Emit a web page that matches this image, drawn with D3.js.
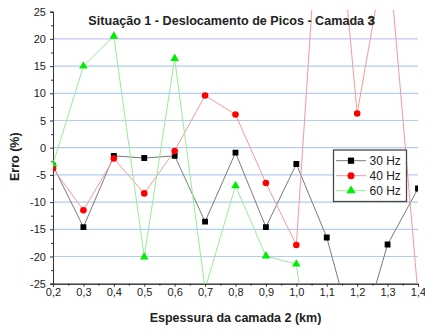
<!DOCTYPE html>
<html>
<head>
<meta charset="utf-8">
<script src="https://cdn.jsdelivr.net/npm/d3@7"></script>
<style>
  html, body { margin: 0; padding: 0; background: #fff; }
  svg { display: block; font-family: "Liberation Sans", Arial, sans-serif; }
</style>
</head>
<body>
<svg id="chart" width="425" height="331"></svg>
<script>
// Layer thickness (km)
const espessura = [0.2, 0.3, 0.4, 0.5, 0.6, 0.7, 0.8, 0.9, 1.0, 1.1, 1.2, 1.3, 1.4];

// Error (%) per frequency
const erro30 = [-3.3, -14.6, -1.5, -1.9, -1.5, -13.6, -0.9, -14.6, -3.0, -16.5, -37, -17.8, -7.5];
const erro40 = [-3.8, -11.5, -2.0, -8.4, -0.6, 9.6, 6.1, -6.5, -17.9, 67, 6.3, 38, -27];
const erro60 = [-3.0, 15.0, 20.5, -20.1, 16.4, -26, -7.0, -19.9, -21.4, -60];

const seriesNames = ["30 Hz", "40 Hz", "60 Hz"];

const xTicks = [0.2, 0.3, 0.4, 0.5, 0.6, 0.7, 0.8, 0.9, 1.0, 1.1, 1.2, 1.3, 1.4];
const yTicks = [-25, -20, -15, -10, -5, 0, 5, 10, 15, 20, 25];
const gridValues = [-20, -15, -10, -5, 0, 5, 10, 15, 20];

const titleText = "Situação 1 - Deslocamento de Picos - Camada ";
const titleLast = "3";
const xLabel = "Espessura da camada 2 (km)";
const yLabel = "Erro (%)";

const svg = d3.select("#chart");
const plotLeft = 53, plotRight = 418, plotTop = 11.7, plotBottom = 283.7;

const x = d3.scaleLinear().domain([0.2, 1.4]).range([plotLeft, plotRight]);
const y = d3.scaleLinear().domain([-25, 25]).range([plotBottom, plotTop]);

// Horizontal grid lines
svg.append("g").selectAll("line").data(gridValues).join("line")
  .attr("x1", plotLeft).attr("x2", plotRight)
  .attr("y1", d => y(d)).attr("y2", d => y(d))
  .attr("stroke", d => d === 20 ? "#c2c4f6" : "#b2cdf0")
  .attr("stroke-width", 1.2);

// Axes
const fmtX = d => d3.format(".1f")(d).replace(".", ",");
const xAxis = d3.axisBottom(x).tickValues(xTicks).tickFormat(fmtX).tickSize(3).tickPadding(2);
const xMinor = d3.axisBottom(x).tickValues(d3.range(0.25, 1.4, 0.1)).tickFormat("").tickSize(2);
const yAxis = d3.axisLeft(y).tickValues(yTicks).tickFormat(d => String(d)).tickSize(3).tickPadding(4);
const yMinor = d3.axisLeft(y).tickValues(d3.range(-22.5, 25, 5)).tickFormat("").tickSize(2);

function styleAxis(g) {
  g.select(".domain").attr("stroke", "#333").attr("stroke-width", 1);
  g.selectAll(".tick line").attr("stroke", "#333");
  g.selectAll(".tick text").attr("fill", "#222").style("font-size", "11px")
    .style("font-family", "'Liberation Sans', Arial, sans-serif");
}

svg.append("g").attr("transform", `translate(0,${plotBottom})`).call(xMinor).call(styleAxis);
svg.append("g").attr("transform", `translate(0,${plotBottom})`).call(xAxis).call(styleAxis);
svg.append("g").attr("transform", `translate(${plotLeft},0)`).call(yMinor).call(styleAxis);
svg.append("g").attr("transform", `translate(${plotLeft},0)`).call(yAxis).call(styleAxis);

// Clip region for the data
svg.append("defs").append("clipPath").attr("id", "plot-clip")
  .append("rect").attr("x", plotLeft).attr("y", plotTop - 2)
  .attr("width", plotRight - plotLeft).attr("height", plotBottom - plotTop + 2);

const plot = svg.append("g").attr("clip-path", "url(#plot-clip)");

const series = [
  { name: seriesNames[0], values: erro30, line: "#7a7a7a", fill: "#000000", symbol: d3.symbolSquare, size: 34 },
  { name: seriesNames[1], values: erro40, line: "#f39a9a", fill: "#ff0000", symbol: d3.symbolCircle, size: 34 },
  { name: seriesNames[2], values: erro60, line: "#9be89b", fill: "#00ee00", symbol: d3.symbolTriangle, size: 32 }
];

const lineGen = d3.line().x(d => x(d[0])).y(d => y(d[1]));

series.forEach(s => {
  const pts = s.values.map((v, i) => [espessura[i], v]);
  plot.append("path").datum(pts)
    .attr("d", lineGen)
    .attr("fill", "none")
    .attr("stroke", s.line)
    .attr("stroke-width", 1);
  plot.append("g").selectAll("path").data(pts).join("path")
    .attr("transform", d => `translate(${x(d[0])},${y(d[1])})`)
    .attr("d", d3.symbol().type(s.symbol).size(s.size))
    .attr("fill", s.fill);
});

// Title
const title = svg.append("text")
  .attr("x", 231.5).attr("y", 25)
  .attr("text-anchor", "middle")
  .attr("fill", "#222")
  .style("font-weight", "bold").style("font-size", "12.6px");
title.append("tspan").text(titleText);
title.append("tspan").text(titleLast).attr("stroke", "#222").attr("stroke-width", 0.5);

// Axis titles
svg.append("text")
  .attr("x", (plotLeft + plotRight) / 2).attr("y", 322)
  .attr("text-anchor", "middle").attr("fill", "#222")
  .style("font-weight", "bold").style("font-size", "12.5px")
  .text(xLabel);

svg.append("text")
  .attr("transform", "translate(19,156.7) rotate(-90)")
  .attr("text-anchor", "middle").attr("fill", "#222")
  .style("font-weight", "bold").style("font-size", "12.5px")
  .text(yLabel);

// Legend
const lg = svg.append("g");
lg.append("rect")
  .attr("x", 333.5).attr("y", 150).attr("width", 73).attr("height", 51.5)
  .attr("fill", "#fff").attr("stroke", "#4a4a4a").attr("stroke-width", 1.3);
series.forEach((s, i) => {
  const cy = 160.7 + i * 15;
  lg.append("line").attr("x1", 336).attr("x2", 366).attr("y1", cy).attr("y2", cy)
    .attr("stroke", s.line).attr("stroke-width", 1);
  lg.append("path").attr("transform", `translate(351,${cy})`)
    .attr("d", d3.symbol().type(s.symbol).size(s.size * 1.15))
    .attr("fill", s.fill);
  lg.append("text").attr("x", 369.5).attr("y", cy + 4.3)
    .attr("fill", "#222").style("font-size", "12px")
    .text(s.name);
});
</script>
</body>
</html>
